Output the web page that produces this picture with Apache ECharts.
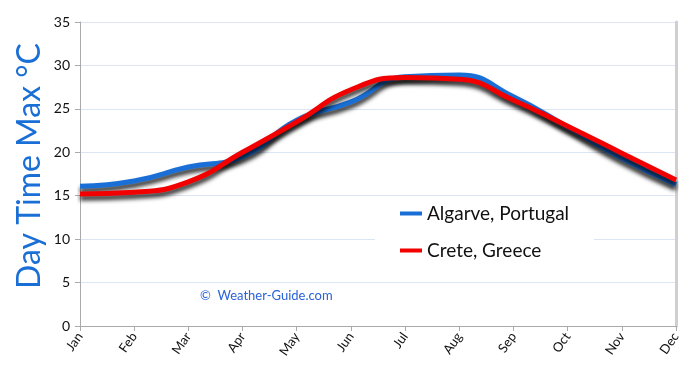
<!DOCTYPE html>
<html>
<head>
<meta charset="utf-8">
<script src="https://cdn.jsdelivr.net/npm/echarts@6/dist/echarts.min.js"></script>
<style>
  html, body { margin: 0; padding: 0; background: #fff; }
  #chart { width: 690px; height: 375px; }
</style>
</head>
<body>
<div id="chart"></div>
<script>
const months = ["Jan", "Feb", "Mar", "Apr", "May", "Jun", "Jul", "Aug", "Sep", "Oct", "Nov", "Dec"];
const algarve = [16.1, 16.7, 18.3, 19.5, 23.7, 25.8, 28.7, 28.9, 26.4, 22.9, 19.3, 16.3];
const crete = [15.2, 15.4, 16.6, 20.0, 23.5, 27.2, 28.6, 28.4, 26.0, 23.0, 19.9, 16.8];

const chart = echarts.init(document.getElementById("chart"));

// shared line look: thick stroke with dark drop shadow
function lineSeries(name, color, data) {
  return {
    name: name,
    type: "line",
    smooth: 0.5,
    symbol: "none",
    data: data,
    itemStyle: { color: color },
    lineStyle: {
      width: 5,
      color: color,
      shadowColor: "rgba(0,0,0,0.85)",
      shadowBlur: 4,
      shadowOffsetY: 4,
    },
  };
}

chart.setOption({
  animation: false,
  backgroundColor: "#fff",
  textStyle: { fontFamily: "Lato, 'DejaVu Sans', sans-serif" },
  grid: { left: 80, right: 14, top: 22, bottom: 49 },
  legend: {
    orient: "vertical",
    left: 375,
    top: 198,
    itemGap: 18,
    itemWidth: 22,
    itemHeight: 4,
    padding: [6, 25, 6, 25],
    backgroundColor: "#fff",
    icon: "rect",
    textStyle: { fontSize: 19, color: "#111" },
    data: ["Algarve, Portugal", "Crete, Greece"],
  },
  graphic: [
    {
      type: "text",
      x: 30,
      y: 166,
      rotation: Math.PI / 2,
      style: {
        text: "Day Time Max °C",
        fill: "#1a6fd6",
        font: "32px Lato, 'DejaVu Sans', sans-serif",
        align: "center",
        verticalAlign: "middle",
      },
    },
    {
      type: "text",
      left: 200,
      top: 289,
      style: {
        text: "©  Weather-Guide.com",
        fill: "#2a62d8",
        font: "13px Lato, 'DejaVu Sans', sans-serif",
      },
    },
  ],
  xAxis: {
    type: "category",
    boundaryGap: false,
    data: months,
    axisLine: { lineStyle: { color: "#aaa", width: 1 } },
    axisTick: { show: true, alignWithLabel: true, length: 5, lineStyle: { color: "#aaa" } },
    axisLabel: { rotate: 55, color: "#111", fontSize: 13, margin: 8, interval: 0 },
    splitLine: { show: false },
  },
  yAxis: [
    {
      type: "value",
      min: 0,
      max: 35,
      interval: 5,
      axisLine: { show: true, lineStyle: { color: "#aaa" } },
      axisTick: { show: true, length: 5, lineStyle: { color: "#aaa" } },
      axisLabel: { color: "#111", fontSize: 14, margin: 10 },
      splitLine: { lineStyle: { color: "#dbe5f3", width: 1 } },
    },
    {
      type: "value",
      position: "right",
      min: 0,
      max: 35,
      interval: 5,
      axisLine: { show: true, lineStyle: { color: "#cfcfcf", width: 3 } },
      axisTick: { show: false },
      axisLabel: { show: false },
      splitLine: { show: false },
    },
  ],
  series: [
    lineSeries("Algarve, Portugal", "#1a6fd6", algarve),
    lineSeries("Crete, Greece", "#f20000", crete),
  ],
});
</script>
</body>
</html>
